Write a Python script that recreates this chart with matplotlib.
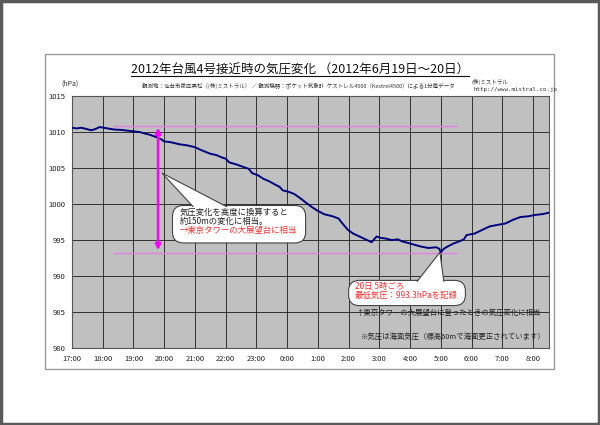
import matplotlib
matplotlib.use("Agg")
import matplotlib.pyplot as plt
from matplotlib.patches import FancyBboxPatch, Polygon, Rectangle
from matplotlib.lines import Line2D

plt.rcParams['font.family'] = ['Noto Sans CJK JP', 'DejaVu Sans']

# hours elapsed since 17:00 on 19 June, and sea-level pressure (hPa)
hours = [0.0, 0.15, 0.3, 0.45, 0.62, 0.75, 0.9, 1.1, 1.37, 1.6, 1.8, 2.0, 2.2, 2.37,
         2.55, 2.74, 2.9, 3.0, 3.2, 3.5, 3.75, 4.0, 4.2, 4.49, 4.7, 4.86, 5.0, 5.11,
         5.35, 5.61, 5.75, 5.86, 6.05, 6.23, 6.4, 6.61, 6.75, 6.86, 7.05, 7.23, 7.4,
         7.61, 7.8, 7.98, 8.2, 8.48, 8.67, 8.8, 8.98, 9.15, 9.35, 9.55, 9.75, 9.85,
         9.91, 10.05, 10.22, 10.4, 10.6, 10.75, 10.85, 11.1, 11.35, 11.6, 11.85, 11.95,
         12.0, 12.1, 12.22, 12.4, 12.59, 12.75, 12.84, 13.1, 13.34, 13.59, 13.84, 14.1,
         14.34, 14.59, 14.85, 15.09, 15.3, 15.52]
pressure = [1010.6, 1010.5, 1010.6, 1010.45, 1010.25, 1010.4, 1010.7, 1010.55, 1010.35,
            1010.3, 1010.2, 1010.1, 1010.0, 1009.8, 1009.6, 1009.3, 1009.0, 1008.7,
            1008.6, 1008.3, 1008.15, 1007.9, 1007.5, 1007.0, 1006.8, 1006.5, 1006.3,
            1005.8, 1005.5, 1005.1, 1004.9, 1004.3, 1004.0, 1003.5, 1003.2, 1002.7,
            1002.4, 1001.9, 1001.7, 1001.4, 1000.9, 1000.2, 999.6, 999.1, 998.6, 998.3,
            998.0, 997.3, 996.4, 995.9, 995.5, 995.1, 994.7, 995.2, 995.5, 995.3, 995.2,
            995.0, 995.1, 994.8, 994.7, 994.4, 994.1, 993.9, 994.0, 993.8, 993.3, 993.8,
            994.1, 994.5, 994.8, 995.1, 995.7, 995.9, 996.4, 996.9, 997.1, 997.3, 997.8,
            998.2, 998.3, 998.5, 998.6, 998.8]

time_labels = ['17:00', '18:00', '19:00', '20:00', '21:00', '22:00', '23:00', '0:00',
               '1:00', '2:00', '3:00', '4:00', '5:00', '6:00', '7:00', '8:00']
ref_levels = [1010.8, 993.25]

fig = plt.figure(figsize=(6, 4.25), dpi=100)

# outer page border and chart frame
fig.add_artist(Rectangle((0.002, 0.003), 0.996, 0.994, transform=fig.transFigure,
                         fill=False, edgecolor='#5a5a5a', linewidth=2.5))
fig.add_artist(Rectangle((0.075, 0.132), 0.848, 0.741, transform=fig.transFigure,
                         fill=False, edgecolor='#9a9a9a', linewidth=1))

ax = fig.add_axes([0.12, 0.181, 0.795, 0.593])
ax.set_facecolor('#c0c0c0')
ax.plot(hours, pressure, color='#000080', linewidth=1.4, zorder=4)

ax.set_xlim(0, 15.52)
ax.set_ylim(980, 1015)
ax.set_xticks(range(len(time_labels)))
ax.set_xticklabels(time_labels)
ax.set_yticks(range(980, 1016, 5))
ax.tick_params(length=0, labelsize=5.5, pad=5, colors='#222222')
ax.grid(True, color='#1a1a1a', linewidth=0.6)
ax.set_axisbelow(True)
for s in ax.spines.values():
    s.set_color('#555555')
    s.set_linewidth(0.8)

# reference levels and altitude arrow
ax.hlines(ref_levels, 1.35, 12.53, color='#e080e0', linewidth=1, zorder=3)
ax.annotate('', xy=(2.8, 993.6), xytext=(2.8, 1010.6),
            arrowprops=dict(arrowstyle='<|-|>', color='#ff00ff', lw=1.8,
                            mutation_scale=8, shrinkA=0, shrinkB=0), zorder=5)

def callout(x0, y0, w, h, base, tip):
    box = FancyBboxPatch((x0, y0), w, h, boxstyle='round,pad=0,rounding_size=0.35',
                         mutation_aspect=4.2, facecolor='white', edgecolor='#444444',
                         linewidth=0.8, zorder=6)
    ax.add_patch(box)
    tail = Polygon([(base[0], y0 + h - 0.2), tip, (base[1], y0 + h - 0.2)], closed=False,
                   facecolor='white', edgecolor='#444444', linewidth=0.8, zorder=7)
    ax.add_patch(tail)

callout(3.27, 994.6, 4.33, 5.2, (3.95, 5.05), (2.93, 1004.3))
ax.text(3.49, 998.9, '気圧変化を高度に換算すると', fontsize=6, color='#222222', va='center', zorder=8)
ax.text(3.49, 997.6, '約150mの変化に相当。', fontsize=6, color='#222222', va='center', zorder=8)
ax.text(3.49, 996.3, '→東京タワーの大展望台に相当', fontsize=6, color='#ff3030', va='center', zorder=8)

callout(9.0, 985.9, 3.8, 3.5, (11.22, 12.1), (11.97, 993.3))
ax.text(9.2, 988.6, '20日 5時ごろ', fontsize=6, color='#ff3030', va='center', zorder=8)
ax.text(9.2, 987.3, '最低気圧：993.3hPaを記録', fontsize=6, color='#ff3030', va='center', zorder=8)

ax.text(9.23, 984.85, '↑東京タワーの大展望台に登ったときの気圧変化に相当', fontsize=5.3,
        color='#222222', va='center', zorder=8)
ax.text(9.4, 981.5, '※気圧は海面気圧（標高60mで海面更正されています）', fontsize=5.3,
        color='#222222', va='center', zorder=8)

# titles
title = fig.text(0.5, 1 - 70 / 425, '2012年台風4号接近時の気圧変化 （2012年6月19日～20日）',
                 fontsize=9, ha='center', va='center', color='#111111')
fig.text(0.497, 1 - 86 / 425,
         '観測地：仙台市泉区黒松（(株)ミストラル） ／ 観測機器：ポケット気象計  ケストレル4500（Kestrel4500）による1分毎データ',
         fontsize=4.0, ha='center', va='center', color='#333333')
fig.text(472 / 600, 1 - 82 / 425, '(株)ミストラル', fontsize=4, va='center', color='#333333')
fig.text(474 / 600, 1 - 89 / 425, 'http://www.mistral.co.jp', fontsize=4.2, va='center',
         family='DejaVu Sans Mono', color='#333333')
fig.text(70 / 600, 1 - 84 / 425, '(hPa)', fontsize=5, ha='center', va='center', color='#333333')

fig.canvas.draw()
bb = title.get_window_extent().transformed(fig.transFigure.inverted())
fig.add_artist(Line2D([bb.x0, bb.x1], [bb.y0 + 0.002, bb.y0 + 0.002], color='#111111',
                      linewidth=0.8, transform=fig.transFigure))

fig.savefig('out.png', dpi=100)
